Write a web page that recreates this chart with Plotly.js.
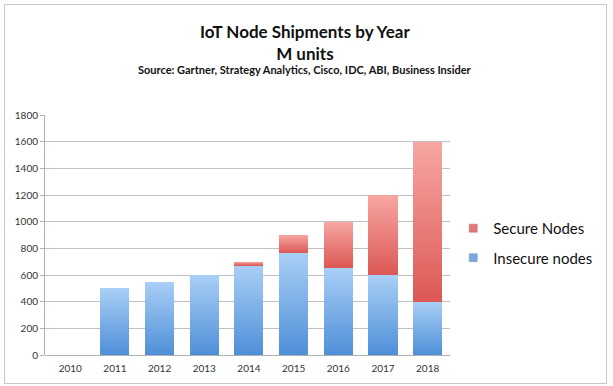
<!DOCTYPE html>
<html><head><meta charset="utf-8">
<script src="https://cdn.plot.ly/plotly-3.0.1.min.js"></script>
<style>
html,body{margin:0;padding:0;background:#fff;}
#wrap{position:relative;width:613px;height:386px;}
#chart{position:absolute;left:0;top:0;width:613px;height:386px;}
#frame{position:absolute;left:4px;top:4px;width:601px;height:378px;border:1px solid #c8c8c8;pointer-events:none;}
</style></head>
<body>
<div id="wrap"><div id="chart"></div><div id="frame"></div></div>
<script>
const years = ['2010','2011','2012','2013','2014','2015','2016','2017','2018'];
const insecure = [0, 500, 550, 600, 670, 765, 655, 600, 400];
const secure = [0, 0, 0, 0, 30, 135, 345, 600, 1200];
const yTicks = [0,200,400,600,800,1000,1200,1400,1600,1800];

const font = 'Lato, "Open Sans", sans-serif';
const blue = '#7eb0ea', red = '#ec7b76';
const traces = [
  {type:'bar', x:years, y:insecure, name:'Insecure nodes', showlegend:false,
   marker:{color:blue, line:{width:0}}, width:0.65, hoverinfo:'skip'},
  {type:'bar', x:years, y:secure, name:'Secure Nodes', showlegend:false,
   marker:{color:red, line:{width:0}}, width:0.65, hoverinfo:'skip'},
  {type:'scatter', mode:'markers', x:[years[0]], y:[null], name:'Secure Nodes', legendrank:1, legendgroup:'s',
   marker:{symbol:'square', size:8, color:'#e07a76', line:{width:0.5, color:'#c86a66'}}, hoverinfo:'skip'},
  {type:'scatter', mode:'markers', x:[years[0]], y:[null], name:'Insecure nodes', legendrank:2, legendgroup:'i',
   marker:{symbol:'square', size:8, color:'#7aa7dc', line:{width:0.5, color:'#6a95c8'}}, hoverinfo:'skip'}
];
const layout = {
  width:613, height:386,
  margin:{l:45, r:163, t:115, b:31},
  paper_bgcolor:'rgba(0,0,0,0)', plot_bgcolor:'#fff',
  barmode:'stack', bargap:0.35,
  font:{family:font, color:'#222'},
  showlegend:true,
  legend:{x:1.008, xanchor:'left', y:0.467, yanchor:'middle', traceorder:'grouped', tracegroupgap:7,
    font:{size:15, color:'#111', family:font}, itemwidth:30, bgcolor:'rgba(0,0,0,0)', itemsizing:'trace'},
  xaxis:{type:'category', showgrid:false, showline:false, ticks:'', tickfont:{size:10, color:'#333'},
    ticklabelstandoff:6},
  yaxis:{range:[0,1800], tickvals:yTicks, ticktext:yTicks.map(String), showgrid:true, gridcolor:'#c0c0c0',
    gridwidth:1, showline:true, linecolor:'#b0b0b0', linewidth:1, zeroline:true, zerolinecolor:'#b0b0b0',
    ticks:'outside', ticklen:4, tickcolor:'#b0b0b0', tickfont:{size:10, color:'#333'}},
  annotations:[
    {text:'<b>IoT Node Shipments by Year</b><br><b>M units</b>', xref:'paper', yref:'paper', x:0.642, y:1.3, xanchor:'center', yanchor:'middle',
     showarrow:false, font:{size:17, color:'#111', family:font}},
    {text:'<b>Source: Gartner, Strategy Analytics, Cisco, IDC, ABI, Business Insider</b>', xref:'paper', yref:'paper', x:0.642, y:1.19, xanchor:'center', yanchor:'middle',
     showarrow:false, font:{size:11, color:'#111', family:font}}
  ]
};
Plotly.newPlot('chart', traces, layout, {staticPlot:true, displayModeBar:false}).then(function(gd){
  const svg = gd.querySelector('svg.main-svg');
  const ns = 'http://www.w3.org/2000/svg';
  const defs = document.createElementNS(ns, 'defs');
  function grad(id, top, bottom){
    const g = document.createElementNS(ns, 'linearGradient');
    g.setAttribute('id', id); g.setAttribute('x1','0'); g.setAttribute('y1','0'); g.setAttribute('x2','0'); g.setAttribute('y2','1');
    [[0, top],[1, bottom]].forEach(function(s){
      const st = document.createElementNS(ns, 'stop');
      st.setAttribute('offset', s[0]); st.setAttribute('stop-color', s[1]);
      g.appendChild(st);
    });
    defs.appendChild(g);
  }
  grad('gBlue', '#a9cff6', '#4f8fd8');
  grad('gRed', '#f7a7a3', '#dc5854');
  svg.insertBefore(defs, svg.firstChild);
  const barTraces = gd.querySelectorAll('.barlayer .trace');
  barTraces.forEach(function(t, i){
    t.querySelectorAll('path').forEach(function(p){ p.style.fill = i === 0 ? 'url(#gBlue)' : 'url(#gRed)'; });
  });
});
</script>
</body></html>
